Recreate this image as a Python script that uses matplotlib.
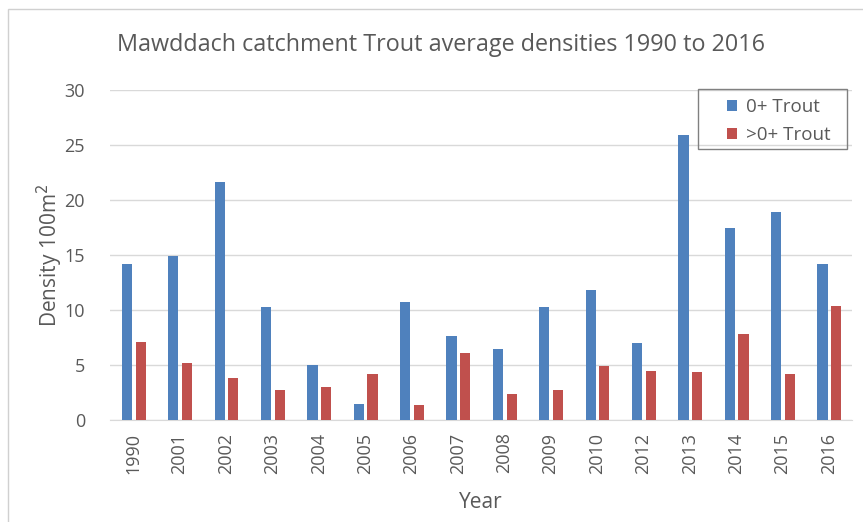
import matplotlib
matplotlib.use("Agg")
import matplotlib.pyplot as plt
import numpy as np
from matplotlib.patches import Rectangle

years = ["1990", "2001", "2002", "2003", "2004", "2005", "2006", "2007",
         "2008", "2009", "2010", "2012", "2013", "2014", "2015", "2016"]
trout_0 = [14.2, 14.9, 21.6, 10.3, 5.0, 1.5, 10.7, 7.6,
           6.5, 10.3, 11.8, 7.0, 25.9, 17.5, 18.9, 14.2]
trout_gt0 = [7.1, 5.2, 3.8, 2.7, 3.0, 4.2, 1.4, 6.1,
             2.4, 2.7, 4.9, 4.5, 4.4, 7.8, 4.2, 10.4]
yticks = [0, 5, 10, 15, 20, 25, 30]

plt.rcParams['font.family'] = ['Open Sans', 'DejaVu Sans']
text_color = "#595959"
W, H = 863, 522

fig = plt.figure(figsize=(W / 100, H / 100), dpi=100)
fig.patches.append(Rectangle((8 / W, -0.1), 1.2, (H - 9) / H + 0.1,
                             transform=fig.transFigure, fill=False,
                             edgecolor="#d0d0d0", linewidth=1.0))
ax = fig.add_axes([110 / W, 102 / H, 742 / W, 330 / H])

x = np.arange(len(years))
w = 0.22
ax.bar(x - 0.135, trout_0, width=w, color="#4F81BD", label="0+ Trout", zorder=3)
ax.bar(x + 0.16, trout_gt0, width=w, color="#C0504D", label=">0+ Trout", zorder=3)

ax.set_xlim(-0.5, len(years) - 0.5)
ax.set_ylim(0, 30)
ax.set_yticks(yticks)
ax.set_yticklabels([str(t) for t in yticks])
ax.set_xticks(x)
ax.set_xticklabels(years, rotation=90)
ax.yaxis.grid(True, color="#d9d9d9", linewidth=1.0, zorder=0)
ax.set_axisbelow(True)
for s in ["top", "right", "left"]:
    ax.spines[s].set_visible(False)
ax.spines["bottom"].set_color("#d9d9d9")
ax.tick_params(axis="both", length=0, labelsize=13, colors=text_color)
ax.tick_params(axis="y", pad=18)
ax.tick_params(axis="x", pad=9)

fig.text(441 / W, 1 - 45 / H,
         "Mawddach catchment Trout average densities 1990 to 2016",
         fontsize=16.8, color=text_color, ha="center", va="center")
ax.set_xlabel("Year", fontsize=15, color=text_color, labelpad=13)
ax.set_ylabel("Density 100m$^2$", fontsize=15, color=text_color, labelpad=0)

leg = ax.legend(loc="upper left", bbox_to_anchor=(712 / W, 1 - 83 / H),
                bbox_transform=fig.transFigure, fontsize=13.5,
                frameon=False, handlelength=0.55, handleheight=0.55,
                handletextpad=0.45, borderpad=0.3, labelspacing=0.55)
for t in leg.get_texts():
    t.set_color(text_color)
fig.patches.append(Rectangle((698 / W, 1 - 149 / H), 149 / W, 60 / H,
                             transform=fig.transFigure, fill=False,
                             edgecolor="#808080", linewidth=1.0, zorder=5))

fig.savefig("out.png", dpi=100)
